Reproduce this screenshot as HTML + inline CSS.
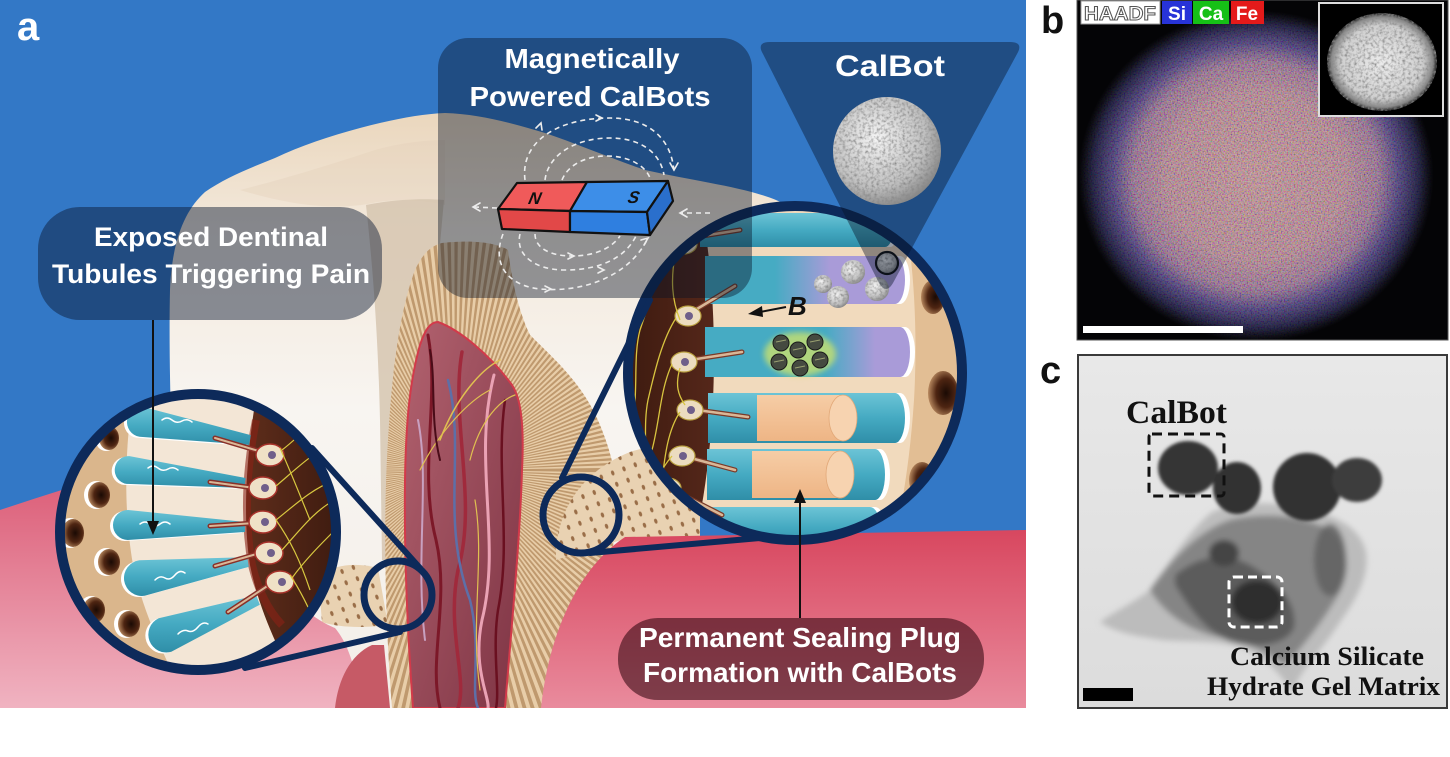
<!DOCTYPE html>
<html><head><meta charset="utf-8">
<style>
html,body{margin:0;padding:0;background:#fff;}
svg{display:block;}
.s{font-family:"Liberation Sans",Arial,sans-serif;font-weight:bold;}
.r{font-family:"Liberation Serif","Times New Roman",serif;font-weight:bold;}
</style></head><body>
<svg xmlns="http://www.w3.org/2000/svg" width="1450" height="757" viewBox="0 0 1450 757">
<defs>
<linearGradient id="gR" x1="0" y1="0" x2="0" y2="1"><stop offset="0" stop-color="#d8475f"/><stop offset="1" stop-color="#e98b9d"/></linearGradient>
<linearGradient id="gL" gradientUnits="userSpaceOnUse" x1="0" y1="480" x2="0" y2="708"><stop offset="0" stop-color="#dc5e78"/><stop offset="1" stop-color="#f0b3c1"/></linearGradient>
<linearGradient id="gT" gradientUnits="userSpaceOnUse" x1="0" y1="110" x2="0" y2="708"><stop offset="0" stop-color="#ead6bc"/><stop offset="0.2" stop-color="#f3e9dc"/><stop offset="0.5" stop-color="#f8f5f1"/><stop offset="1" stop-color="#f3eee8"/></linearGradient>
<linearGradient id="gP" x1="0" y1="0" x2="1" y2="1"><stop offset="0" stop-color="#b2626f"/><stop offset="1" stop-color="#7e3444"/></linearGradient>
<radialGradient id="gH" cx="0.6" cy="0.5" r="0.6"><stop offset="0" stop-color="#1a0a04"/><stop offset="0.55" stop-color="#4e2512"/><stop offset="1" stop-color="#b98a60"/></radialGradient>
<linearGradient id="gBr" x1="0" y1="0" x2="1" y2="0"><stop offset="0" stop-color="#5e2d1b"/><stop offset="1" stop-color="#3c1a0f"/></linearGradient>
<linearGradient id="gBr2" x1="0" y1="0" x2="1" y2="0"><stop offset="0" stop-color="#3c1a0f"/><stop offset="1" stop-color="#55271a"/></linearGradient>
<linearGradient id="gTP1" gradientUnits="userSpaceOnUse" x1="775" y1="0" x2="830" y2="0"><stop offset="0" stop-color="#46abc3"/><stop offset="1" stop-color="#a99bd8"/></linearGradient>
<linearGradient id="gTP2" gradientUnits="userSpaceOnUse" x1="825" y1="0" x2="875" y2="0"><stop offset="0" stop-color="#46abc3"/><stop offset="1" stop-color="#a99bd8"/></linearGradient>
<linearGradient id="gTeal" x1="0" y1="0" x2="0" y2="1"><stop offset="0" stop-color="#6cc4d6"/><stop offset="0.5" stop-color="#45aac2"/><stop offset="1" stop-color="#2f8ea8"/></linearGradient>
<radialGradient id="gS" cx="0.4" cy="0.38" r="0.65"><stop offset="0" stop-color="#f4f4f4"/><stop offset="0.7" stop-color="#c0c0c0"/><stop offset="1" stop-color="#888"/></radialGradient>
<linearGradient id="gPeach" x1="0" y1="0" x2="0" y2="1"><stop offset="0" stop-color="#f6cda6"/><stop offset="1" stop-color="#eeb585"/></linearGradient>
<radialGradient id="gB" cx="0.5" cy="0.5" r="0.5"><stop offset="0" stop-color="#c08c8e"/><stop offset="0.5" stop-color="#b2808a"/><stop offset="0.68" stop-color="#8e6486"/><stop offset="0.8" stop-color="#3e3272"/><stop offset="0.92" stop-color="#141436"/><stop offset="1" stop-color="#050510" stop-opacity="0"/></radialGradient>
<radialGradient id="gBm" cx="0.5" cy="0.5" r="0.5"><stop offset="0" stop-color="#fff"/><stop offset="0.7" stop-color="#fff"/><stop offset="0.95" stop-color="#444"/><stop offset="1" stop-color="#000"/></radialGradient>
<mask id="mB" maskUnits="userSpaceOnUse" x="1070" y="0" width="380" height="350"><ellipse cx="1256" cy="176" rx="178" ry="166" fill="url(#gBm)"/></mask>
<radialGradient id="gIn" cx="0.5" cy="0.5" r="0.5"><stop offset="0" stop-color="#ececec"/><stop offset="0.75" stop-color="#cfcfcf"/><stop offset="0.92" stop-color="#8a8a8a"/><stop offset="1" stop-color="#222"/></radialGradient>
<linearGradient id="gC" x1="0" y1="0" x2="0" y2="1"><stop offset="0" stop-color="#e8e8e8"/><stop offset="1" stop-color="#dcdcdc"/></linearGradient>
<filter id="grain"><feTurbulence type="fractalNoise" baseFrequency="0.35" numOctaves="2" seed="2" result="n"/><feColorMatrix in="n" type="matrix" values="0 0 0 0 0.25  0 0 0 0 0.25  0 0 0 0 0.25  0 0 0 -2.2 1.3" result="d"/><feComposite in="d" in2="SourceGraphic" operator="in" result="dc"/><feMerge><feMergeNode in="SourceGraphic"/><feMergeNode in="dc"/></feMerge></filter>
<filter id="spk" x="0" y="0" width="1" height="1"><feTurbulence type="fractalNoise" baseFrequency="0.7" numOctaves="1" seed="5"/><feColorMatrix type="matrix" values="2.4 0 0 0 -0.7  0 2.4 0 0 -0.75  0 0 2.4 0 -0.7  0 0 0 0 1"/></filter>
<filter id="bl3" x="-20%" y="-20%" width="140%" height="140%"><feGaussianBlur stdDeviation="3"/></filter>
<filter id="bl1" x="-20%" y="-20%" width="140%" height="140%"><feGaussianBlur stdDeviation="1.5"/></filter>
<pattern id="dots" width="12" height="12" patternUnits="userSpaceOnUse" patternTransform="rotate(-20)"><rect width="12" height="12" fill="#e9d2b2"/><ellipse cx="6" cy="6" rx="1.6" ry="2.6" fill="#9a6e48"/></pattern>
<clipPath id="cA"><rect x="0" y="0" width="1026" height="708"/></clipPath>
<clipPath id="cL"><circle cx="198" cy="532" r="138"/></clipPath>
<clipPath id="cR"><circle cx="795" cy="373" r="167"/></clipPath>
<clipPath id="cFan"><path d="M392,708 C385,620 383,520 388,440 C392,370 400,310 415,270 C422,255 430,246 442,243 C470,240 495,242 508,250 C512,280 518,310 530,335 C555,360 585,385 602,430 C618,470 622,510 612,550 L565,708 Z"/></clipPath>
<clipPath id="cPb"><rect x="1077" y="0" width="371" height="340"/></clipPath>
<clipPath id="cPc"><rect x="1078" y="355" width="369" height="353"/></clipPath>
</defs>

<rect width="1450" height="757" fill="#fff"/>

<g clip-path="url(#cA)">
<rect x="0" y="0" width="1026" height="708" fill="#3378c6"/>

<path d="M176,708 L176,600 C174,500 168,380 170,290 C172,240 185,210 205,192 C225,178 250,168 275,158 C300,146 330,136 360,128 C390,120 420,114 445,113 C480,114 515,124 545,133 C575,143 610,158 645,170 C690,180 735,186 765,196 C790,204 805,215 810,240 L810,420 L620,560 L560,708 Z" fill="url(#gT)"/>
<path d="M240,190 C280,180 330,165 375,150 C400,143 425,140 445,140 L445,205 C420,200 395,198 368,204 C330,210 290,205 240,190 Z" fill="#e2cfb6" opacity="0.35"/>
<path d="M366,205 C372,260 378,330 380,420 L382,560 L388,560 C386,470 392,360 412,285 C420,262 430,250 440,244 L444,200 C420,198 390,200 366,205 Z" fill="#d6c6b0" opacity="0.85"/>

<g clip-path="url(#cFan)">
<rect x="370" y="230" width="270" height="480" fill="#e8cda8"/>
<circle cx="455" cy="470" r="170" fill="none" stroke="#bf996e" stroke-width="330" stroke-dasharray="2.6 2.7"/>
</g>

<path d="M413,708 C408,640 404,560 405,480 C406,420 410,380 420,345 C425,330 430,322 438,322 C460,330 490,355 512,385 C522,400 524,430 522,470 C520,540 512,620 505,708 Z" fill="url(#gP)" stroke="#d23a4a" stroke-width="2"/>
<g fill="none" stroke-linecap="round">
<path d="M428,335 C440,400 418,470 436,540 C450,600 428,660 440,708" stroke="#7c1828" stroke-width="3"/>
<path d="M462,352 C450,420 478,500 458,570 C446,630 468,680 458,708" stroke="#a02a3c" stroke-width="3.5"/>
<path d="M448,380 C466,450 440,520 470,600 C482,650 470,690 478,708" stroke="#5d6fa8" stroke-width="2.5"/>
<path d="M494,375 C472,460 502,540 482,620 C472,668 490,698 488,708" stroke="#eaa2b4" stroke-width="3"/>
<path d="M505,400 C495,470 512,540 498,610 C492,650 500,690 496,708" stroke="#6a1020" stroke-width="2.5"/>
<path d="M418,420 C430,480 415,560 425,640" stroke="#c8a0c0" stroke-width="2"/>
<path d="M440,440 C455,400 480,370 500,360" stroke="#e0c050" stroke-width="1.5"/>
<path d="M420,470 C440,430 470,400 490,390" stroke="#e0c050" stroke-width="1.2"/>
<path d="M470,460 C480,420 500,400 515,395" stroke="#e0c050" stroke-width="1.2"/>
<path d="M430,350 C436,380 430,420 440,460" stroke="#4a0c18" stroke-width="2"/>
<path d="M475,500 C485,560 470,620 480,690" stroke="#e0c050" stroke-width="1.2"/>
</g>

<path d="M318,575 C335,565 355,562 378,568 L388,625 C365,628 340,628 322,622 Z" fill="url(#dots)"/>
<path d="M556,548 C560,505 585,470 630,452 C655,444 680,440 700,440 L700,540 L628,538 C605,545 580,552 556,560 Z" fill="url(#dots)"/>

<path d="M0,510 C60,490 120,470 180,465 L250,560 C290,600 315,620 335,628 C345,640 355,660 362,708 L0,708 Z" fill="url(#gL)"/>
<path d="M335,708 C338,680 350,655 372,645 L384,645 L390,708 Z" fill="#c65a66"/>
<path d="M541,708 C548,640 575,570 625,537 L1026,530 L1026,708 Z" fill="url(#gR)"/>

<g clip-path="url(#cR)">
<rect x="620" y="200" width="350" height="350" fill="#f1dabd"/>
<path d="M902,200 C914,260 918,330 914,400 C910,460 902,510 890,560 L975,560 L975,200 Z" fill="#e2be94"/>
<ellipse cx="933" cy="297" rx="12" ry="17" fill="url(#gH)"/>
<ellipse cx="943" cy="393" rx="15" ry="22" fill="url(#gH)"/>
<ellipse cx="922" cy="480" rx="13" ry="18" fill="url(#gH)"/>
<path d="M620,200 L700,200 C712,260 716,330 713,400 C710,460 703,510 690,560 L620,560 Z" fill="url(#gBr2)"/>
<g fill="#fff">
<path transform="translate(5,0)" d="M700,213 L885,213 A8,17 0 0 1 885,247 L700,247 Z"/>
<path transform="translate(5,0)" d="M705,256 L895,256 A10,24 0 0 1 895,304 L705,304 Z"/>
<path transform="translate(5,0)" d="M705,327 L900,327 A10,25 0 0 1 900,377 L705,377 Z"/>
<path transform="translate(5,0)" d="M708,393 L895,393 A10,25 0 0 1 895,443 L708,443 Z"/>
<path transform="translate(5,0)" d="M707,449 L875,449 A10,25.5 0 0 1 875,500 L707,500 Z"/>
<path transform="translate(5,0)" d="M705,507 L870,507 A10,20 0 0 1 870,547 L705,547 Z"/>
</g>
<path d="M700,213 L885,213 A8,17 0 0 1 885,247 L700,247 Z" fill="url(#gTeal)"/>
<path d="M705,256 L895,256 A10,24 0 0 1 895,304 L705,304 Z" fill="url(#gTP1)"/>
<path d="M705,327 L900,327 A10,25 0 0 1 900,377 L705,377 Z" fill="url(#gTP2)"/>
<path d="M708,393 L895,393 A10,25 0 0 1 895,443 L708,443 Z" fill="url(#gTeal)"/>
<path d="M707,449 L875,449 A10,25.5 0 0 1 875,500 L707,500 Z" fill="url(#gTeal)"/>
<path d="M705,507 L870,507 A10,20 0 0 1 870,547 L705,547 Z" fill="url(#gTeal)"/>
<rect x="757" y="395" width="86" height="46" fill="url(#gPeach)"/>
<ellipse cx="843" cy="418" rx="14" ry="23" fill="#f7d3b0" stroke="#e2a878" stroke-width="0.8"/>
<rect x="752" y="451" width="88" height="47" fill="url(#gPeach)"/>
<ellipse cx="840" cy="474.5" rx="14" ry="23.5" fill="#f7d3b0" stroke="#e2a878" stroke-width="0.8"/>
<g filter="url(#grain)">
<circle cx="823" cy="284" r="9" fill="url(#gS)"/>
<circle cx="853" cy="272" r="12" fill="url(#gS)"/>
<circle cx="838" cy="297" r="11" fill="url(#gS)"/>
<circle cx="877" cy="289" r="12" fill="url(#gS)"/>
<circle cx="887" cy="263" r="10" fill="url(#gS)"/>
</g>
<circle cx="887" cy="263" r="11" fill="none" stroke="#111" stroke-width="2.2"/>
<ellipse cx="800" cy="354" rx="36" ry="22" fill="#d2e468" opacity="0.75" filter="url(#bl3)"/>
<g fill="#454a40" stroke="#1a1a1a" stroke-width="1">
<circle cx="781" cy="343" r="8"/><circle cx="798" cy="350" r="8"/><circle cx="815" cy="342" r="8"/>
<circle cx="779" cy="362" r="8"/><circle cx="800" cy="368" r="8"/><circle cx="820" cy="360" r="8"/>
</g>
<g stroke="#9aa070" stroke-width="1" fill="none">
<path d="M776,342 L786,340"/><path d="M793,350 L803,348"/><path d="M810,342 L820,340"/><path d="M774,362 L784,360"/><path d="M795,368 L805,366"/><path d="M815,360 L825,358"/>
</g>
<g stroke-linecap="round" fill="none">
<path d="M690,238 L740,230" stroke="#7a3a28" stroke-width="5"/><path d="M690,238 L740,230" stroke="#d9b797" stroke-width="2.5"/>
<path d="M692,312 L735,286" stroke="#7a3a28" stroke-width="5"/><path d="M692,312 L735,286" stroke="#d9b797" stroke-width="2.5"/>
<path d="M690,360 L742,352" stroke="#7a3a28" stroke-width="5"/><path d="M690,360 L742,352" stroke="#d9b797" stroke-width="2.5"/>
<path d="M697,410 L748,417" stroke="#7a3a28" stroke-width="5"/><path d="M697,410 L748,417" stroke="#d9b797" stroke-width="2.5"/>
<path d="M687,457 L735,470" stroke="#7a3a28" stroke-width="5"/><path d="M687,457 L735,470" stroke="#d9b797" stroke-width="2.5"/>
<path d="M673,490 L722,515" stroke="#7a3a28" stroke-width="5"/><path d="M673,490 L722,515" stroke="#d9b797" stroke-width="2.5"/>
</g>
<g fill="#ecdcc0" stroke="#b9a040" stroke-width="1.2">
<ellipse cx="684" cy="244" rx="13" ry="10"/><ellipse cx="688" cy="316" rx="13" ry="10"/><ellipse cx="684" cy="362" rx="13" ry="10"/>
<ellipse cx="690" cy="410" rx="13" ry="10"/><ellipse cx="682" cy="456" rx="13" ry="10"/><ellipse cx="668" cy="488" rx="13" ry="10"/>
</g>
<g fill="#6f5f8a"><circle cx="685" cy="244" r="4"/><circle cx="689" cy="316" r="4"/><circle cx="685" cy="362" r="4"/><circle cx="691" cy="410" r="4"/><circle cx="683" cy="456" r="4"/><circle cx="669" cy="488" r="4"/></g>
<g fill="none" stroke="#d8c440" stroke-width="1.3">
<path d="M672,244 C660,270 650,300 640,330 C632,360 640,400 630,430"/>
<path d="M676,318 C662,340 655,370 648,400 C642,430 650,460 640,500"/>
<path d="M672,364 C660,390 660,420 652,450 C645,480 655,510 648,540"/>
<path d="M680,412 C668,430 665,455 662,480 C658,510 665,530 660,550"/>
<path d="M672,456 C660,470 650,490 640,520"/>
<path d="M676,250 C670,280 672,300 680,320"/>
<path d="M680,368 C675,385 678,395 685,405"/>
<path d="M660,230 C650,260 645,280 630,300"/>
</g>
<path d="M786,307 L760,312" stroke="#111" stroke-width="2"/>
<path d="M748,314 L762,306 L763,317 Z" fill="#111"/>
<text x="788" y="315" class="s" font-size="26" font-style="italic" fill="#111">B</text>
</g>
<circle cx="795" cy="373" r="167" fill="none" stroke="#0d2a5a" stroke-width="10"/>

<g clip-path="url(#cL)">
<rect x="55" y="389" width="290" height="290" fill="#dab68c"/>
<path d="M134,388 C126,440 122,500 133,565 C143,612 160,645 180,690 L300,690 C275,645 258,605 250,565 C243,520 245,465 258,395 Z" fill="#f3e6d6"/>
<path d="M258,385 C245,460 243,520 250,565 C258,605 275,645 300,690 L345,690 L345,385 Z" fill="url(#gBr)"/>
<path d="M256,420 C246,470 244,520 252,565 C258,590 268,610 282,625" fill="none" stroke="#8a2216" stroke-width="8" opacity="0.6"/>
<g>
<ellipse cx="106" cy="438" rx="11" ry="13" fill="#fff"/><ellipse cx="109" cy="438" rx="10" ry="12" fill="url(#gH)"/>
<ellipse cx="96" cy="495" rx="12" ry="14" fill="#fff"/><ellipse cx="99" cy="495" rx="11" ry="13" fill="url(#gH)"/>
<ellipse cx="70" cy="533" rx="12" ry="15" fill="#fff"/><ellipse cx="73" cy="533" rx="11" ry="14" fill="url(#gH)"/>
<ellipse cx="106" cy="562" rx="12" ry="14" fill="#fff"/><ellipse cx="109" cy="562" rx="11" ry="13" fill="url(#gH)"/>
<ellipse cx="91" cy="610" rx="12" ry="14" fill="#fff"/><ellipse cx="94" cy="610" rx="11" ry="13" fill="url(#gH)"/>
<ellipse cx="126" cy="624" rx="12" ry="14" fill="#fff"/><ellipse cx="129" cy="624" rx="11" ry="13" fill="url(#gH)"/>
</g>
<g fill="#fff" transform="translate(-3,1)">
<path d="M144.5,407.2 L250.8,435.1 L249.2,444.9 L139.5,436.8 A15,15 0 0 1 144.5,407.2 Z"/>
<path d="M129.5,456.1 L245.6,478 L244.4,488 L126.5,483.9 A14,14 0 0 1 129.5,456.1 Z"/>
<path d="M128.3,510 L245.1,522 L244.9,532 L127.7,540 A15,15 0 0 1 128.3,510 Z"/>
<path d="M139.3,560.2 L247.3,557.1 L248.7,566.9 L144.7,595.8 A18,18 0 0 1 139.3,560.2 Z"/>
<path d="M158.7,618.2 L256.2,595.3 L259.8,604.7 L171.3,651.8 A18,18 0 0 1 158.7,618.2 Z"/>
</g>
<g fill="url(#gTeal)">
<path d="M144.5,407.2 L250.8,435.1 L249.2,444.9 L139.5,436.8 A15,15 0 0 1 144.5,407.2 Z"/>
<path d="M129.5,456.1 L245.6,478 L244.4,488 L126.5,483.9 A14,14 0 0 1 129.5,456.1 Z"/>
<path d="M128.3,510 L245.1,522 L244.9,532 L127.7,540 A15,15 0 0 1 128.3,510 Z"/>
<path d="M139.3,560.2 L247.3,557.1 L248.7,566.9 L144.7,595.8 A18,18 0 0 1 139.3,560.2 Z"/>
<path d="M158.7,618.2 L256.2,595.3 L259.8,604.7 L171.3,651.8 A18,18 0 0 1 158.7,618.2 Z"/>
</g>
<g fill="none" stroke="#fff" stroke-width="1.5" stroke-linecap="round">
<path d="M162,420 q5,-4 10,0 t10,1 t10,1"/>
<path d="M148,468 q5,-4 10,0 t10,1 t10,1"/>
<path d="M140,524 q5,-4 10,0 t10,0 t10,0"/>
<path d="M155,580 q5,-5 10,-2 t10,-3 t10,-2"/>
<path d="M178,634 q5,-5 10,-3 t10,-4 t10,-3"/>
</g>
<g stroke-linecap="round" fill="none">
<path d="M215,438 L262,452" stroke="#8a3028" stroke-width="5"/><path d="M215,438 L262,452" stroke="#d9b797" stroke-width="2"/>
<path d="M210,482 L255,488" stroke="#8a3028" stroke-width="5"/><path d="M210,482 L255,488" stroke="#d9b797" stroke-width="2"/>
<path d="M210,526 L255,523" stroke="#8a3028" stroke-width="5"/><path d="M210,526 L255,523" stroke="#d9b797" stroke-width="2"/>
<path d="M215,566 L260,553" stroke="#8a3028" stroke-width="5"/><path d="M215,566 L260,553" stroke="#d9b797" stroke-width="2"/>
<path d="M228,612 L272,583" stroke="#8a3028" stroke-width="5"/><path d="M228,612 L272,583" stroke="#d9b797" stroke-width="2"/>
</g>
<g fill="#efe1c6" stroke="#a8322a" stroke-width="1.5">
<ellipse cx="270" cy="455" rx="14" ry="11"/><ellipse cx="263" cy="488" rx="14" ry="11"/><ellipse cx="263" cy="522" rx="14" ry="11"/><ellipse cx="269" cy="553" rx="14" ry="11"/><ellipse cx="280" cy="582" rx="14" ry="11"/>
</g>
<g fill="#6f5f8a"><circle cx="272" cy="455" r="4"/><circle cx="265" cy="488" r="4"/><circle cx="265" cy="522" r="4"/><circle cx="271" cy="553" r="4"/><circle cx="282" cy="582" r="4"/></g>
<g fill="none" stroke="#d8c840" stroke-width="1.2">
<path d="M282,450 C295,440 305,430 315,420"/>
<path d="M276,486 C295,470 310,455 330,445"/>
<path d="M276,520 C295,505 310,490 335,480"/>
<path d="M282,550 C300,530 315,510 335,500"/>
<path d="M292,578 C305,560 320,545 335,530"/>
<path d="M280,448 C290,470 300,495 310,520"/>
<path d="M276,520 C290,540 300,560 310,590"/>
<path d="M290,575 C300,590 310,610 318,630"/>
</g>
</g>
<circle cx="198" cy="532" r="138" fill="none" stroke="#0d2a5a" stroke-width="10"/>

<g stroke="#0d2a5a" fill="none" stroke-linecap="round">
<path d="M312,448 L420,568" stroke-width="6"/>
<path d="M245,668 L400,632" stroke-width="6"/>
<circle cx="398" cy="595" r="34" stroke-width="7"/>
<path d="M562,478 L650,300" stroke-width="6"/>
<path d="M590,553 L760,538" stroke-width="6"/>
<circle cx="581" cy="515" r="38" stroke-width="7"/>
</g>

<rect x="438" y="38" width="314" height="260" rx="30" fill="rgba(8,18,38,0.42)"/>
<path d="M770,42 L1010,42 Q1024,42 1017,54 L893,283 Q886,295 879,283 L763,54 Q756,42 770,42 Z" fill="rgba(8,18,38,0.42)"/>
<rect x="38" y="207" width="344" height="113" rx="42" fill="rgba(10,25,50,0.47)"/>
<rect x="618" y="618" width="366" height="82" rx="40" fill="rgba(40,0,10,0.55)"/>

<g fill="none" stroke="#ececec" stroke-width="1.6" stroke-dasharray="5 4">
<path d="M525,180 C520,140 560,118 610,118 C650,118 672,140 674,172"/>
<path d="M545,180 C548,155 575,138 610,138 C640,138 660,152 664,175"/>
<path d="M562,180 C568,165 585,156 607,156 C628,156 645,165 650,178"/>
<path d="M503,234 C492,262 505,285 540,289 C585,293 630,275 648,238"/>
<path d="M520,234 C515,255 535,270 565,270 C600,270 625,258 636,236"/>
<path d="M535,234 C535,248 550,256 572,256 C595,256 612,248 620,236"/>
<path d="M497,208 L474,207"/>
<path d="M710,213 L680,213"/>
</g>
<g fill="none" stroke="#ececec" stroke-width="1.6" stroke-linecap="round">
<path d="M480,203 L473,207 L480,211"/>
<path d="M687,209 L680,213 L687,217"/>
<path d="M536,128 L541,123 L542,130"/>
<path d="M670,163 L674,170 L678,163"/>
<path d="M596,115 L602,118 L596,121"/>
<path d="M545,286 L551,289 L545,292"/>
<path d="M598,267 L604,270 L598,273"/>
<path d="M568,253 L574,256 L568,259"/>
<path d="M644,245 L648,238 L641,240"/>
</g>
<g stroke="#111" stroke-width="2.2" stroke-linejoin="round">
<path d="M498,209 L517,183 L587,182 L570,211 Z" fill="#f05a5a"/>
<path d="M570,211 L587,182 L668,181 L647,212 Z" fill="#3d8ee8"/>
<path d="M498,209 L570,211 L570,232 L502,229 Z" fill="#e24848"/>
<path d="M570,211 L647,212 L650,235 L570,232 Z" fill="#2f7fe0"/>
<path d="M647,212 L668,181 L673,201 L650,235 Z" fill="#2a6fcc"/>
</g>
<text x="528" y="204" class="s" font-size="17" font-style="italic" fill="#111" transform="skewX(-12) translate(43,0)">N</text>
<text x="627" y="203" class="s" font-size="17" font-style="italic" fill="#111" transform="skewX(-12) translate(43,0)">S</text>

<circle cx="887" cy="151" r="54" fill="url(#gS)" filter="url(#grain)"/>

<text x="17" y="40" class="s" font-size="40" fill="#fff">a</text>
<g class="s" fill="#fff" text-anchor="middle">
<text x="211" y="246" font-size="27" textLength="234" lengthAdjust="spacingAndGlyphs">Exposed Dentinal</text>
<text x="211" y="283" font-size="27" textLength="318" lengthAdjust="spacingAndGlyphs">Tubules Triggering Pain</text>
<text x="592" y="68" font-size="28" textLength="175" lengthAdjust="spacingAndGlyphs">Magnetically</text>
<text x="590" y="106" font-size="28" textLength="241" lengthAdjust="spacingAndGlyphs">Powered CalBots</text>
<text x="890" y="76" font-size="30" textLength="110" lengthAdjust="spacingAndGlyphs">CalBot</text>
<text x="800" y="647" font-size="27.5" textLength="322" lengthAdjust="spacingAndGlyphs">Permanent Sealing Plug</text>
<text x="800" y="682" font-size="27.5" textLength="314" lengthAdjust="spacingAndGlyphs">Formation with CalBots</text>
</g>
<path d="M153,320 L153,524" stroke="#111" stroke-width="2"/>
<path d="M147,521 L159,521 L153,535 Z" fill="#111"/>
<path d="M800,618 L800,500" stroke="#111" stroke-width="2"/>
<path d="M794,503 L806,503 L800,489 Z" fill="#111"/>
</g>

<!-- panel b -->
<g clip-path="url(#cPb)">
<rect x="1077" y="0" width="371" height="340" fill="#040406"/>
<ellipse cx="1256" cy="176" rx="178" ry="166" fill="url(#gB)"/>
<g mask="url(#mB)" opacity="0.33"><rect x="1070" y="0" width="380" height="350" filter="url(#spk)"/></g>
<rect x="1083" y="326" width="160" height="7" fill="#fff"/>
<rect x="1319" y="3" width="124" height="113" fill="#000" stroke="#ddd" stroke-width="2"/>
<ellipse cx="1382" cy="62" rx="55" ry="49" fill="url(#gIn)" filter="url(#grain)"/>
</g>
<rect x="1077" y="0" width="371" height="340" fill="none" stroke="#555" stroke-width="1"/>
<rect x="1081" y="1" width="79" height="23" fill="#fff" stroke="#999" stroke-width="1"/>
<text x="1120" y="20" class="s" font-size="19" fill="#fff" stroke="#555" stroke-width="1" text-anchor="middle" textLength="72" lengthAdjust="spacingAndGlyphs">HAADF</text>
<rect x="1162" y="1" width="30" height="23" fill="#2733d8"/>
<text x="1177" y="20" class="s" font-size="19" fill="#fff" text-anchor="middle">Si</text>
<rect x="1193" y="1" width="36" height="23" fill="#16c016"/>
<text x="1211" y="20" class="s" font-size="19" fill="#fff" text-anchor="middle">Ca</text>
<rect x="1231" y="1" width="33" height="23" fill="#e41a1a"/>
<text x="1247" y="20" class="s" font-size="19" fill="#fff" text-anchor="middle">Fe</text>

<!-- panel c -->
<g clip-path="url(#cPc)">
<rect x="1078" y="355" width="369" height="353" fill="url(#gC)"/>
<g filter="url(#bl3)">
<path d="M1100,622 C1120,608 1140,600 1155,585 C1170,560 1190,530 1212,512 C1240,500 1275,502 1305,508 C1332,515 1360,525 1366,552 C1370,580 1352,605 1338,625 C1322,650 1302,668 1292,692 C1277,668 1258,652 1236,646 C1210,640 1186,642 1162,640 C1138,636 1118,634 1100,622 Z" fill="#b0b0b0" opacity="0.75"/>
<path d="M1150,590 C1170,560 1200,530 1230,520 C1265,512 1300,515 1330,530 C1350,545 1352,575 1335,600 C1320,625 1300,650 1285,665 C1265,650 1240,640 1215,636 C1190,630 1165,615 1150,590 Z" fill="#7c7c7c" opacity="0.85"/>
<path d="M1175,575 C1200,555 1225,552 1250,565 C1275,580 1298,600 1294,628 C1284,648 1252,648 1228,640 C1203,630 1188,605 1175,585 Z" fill="#555" opacity="0.85"/>
<ellipse cx="1257" cy="602" rx="26" ry="22" fill="#2e2e2e"/>
<ellipse cx="1330" cy="560" rx="16" ry="36" fill="#5e5e5e" opacity="0.8"/>
<ellipse cx="1224" cy="553" rx="15" ry="13" fill="#444"/>
</g>
<g filter="url(#bl1)">
<ellipse cx="1188" cy="468" rx="30" ry="27" fill="#363636"/>
<ellipse cx="1237" cy="488" rx="24" ry="26" fill="#313131"/>
<ellipse cx="1307" cy="487" rx="34" ry="34" fill="#313131"/>
<ellipse cx="1357" cy="480" rx="25" ry="22" fill="#3c3c3c"/>
</g>
<rect x="1149" y="434" width="75" height="62" rx="3" fill="none" stroke="#111" stroke-width="3" stroke-dasharray="10 6"/>
<rect x="1229" y="577" width="53" height="50" rx="5" fill="none" stroke="#fff" stroke-width="3" stroke-dasharray="9 5"/>
<rect x="1083" y="688" width="50" height="13" fill="#000"/>
<text x="1126" y="423" class="r" font-size="33" fill="#111" textLength="101" lengthAdjust="spacingAndGlyphs">CalBot</text>
<text x="1230" y="665" class="r" font-size="26" fill="#111" textLength="194" lengthAdjust="spacingAndGlyphs">Calcium Silicate</text>
<text x="1207" y="695" class="r" font-size="26" fill="#111" textLength="233" lengthAdjust="spacingAndGlyphs">Hydrate Gel Matrix</text>
</g>
<rect x="1078" y="355" width="369" height="353" fill="none" stroke="#3a3a3a" stroke-width="2"/>

<text x="1041" y="33" class="s" font-size="38" fill="#111">b</text>
<text x="1040" y="383" class="s" font-size="38" fill="#111">c</text>
</svg>
</body></html>
